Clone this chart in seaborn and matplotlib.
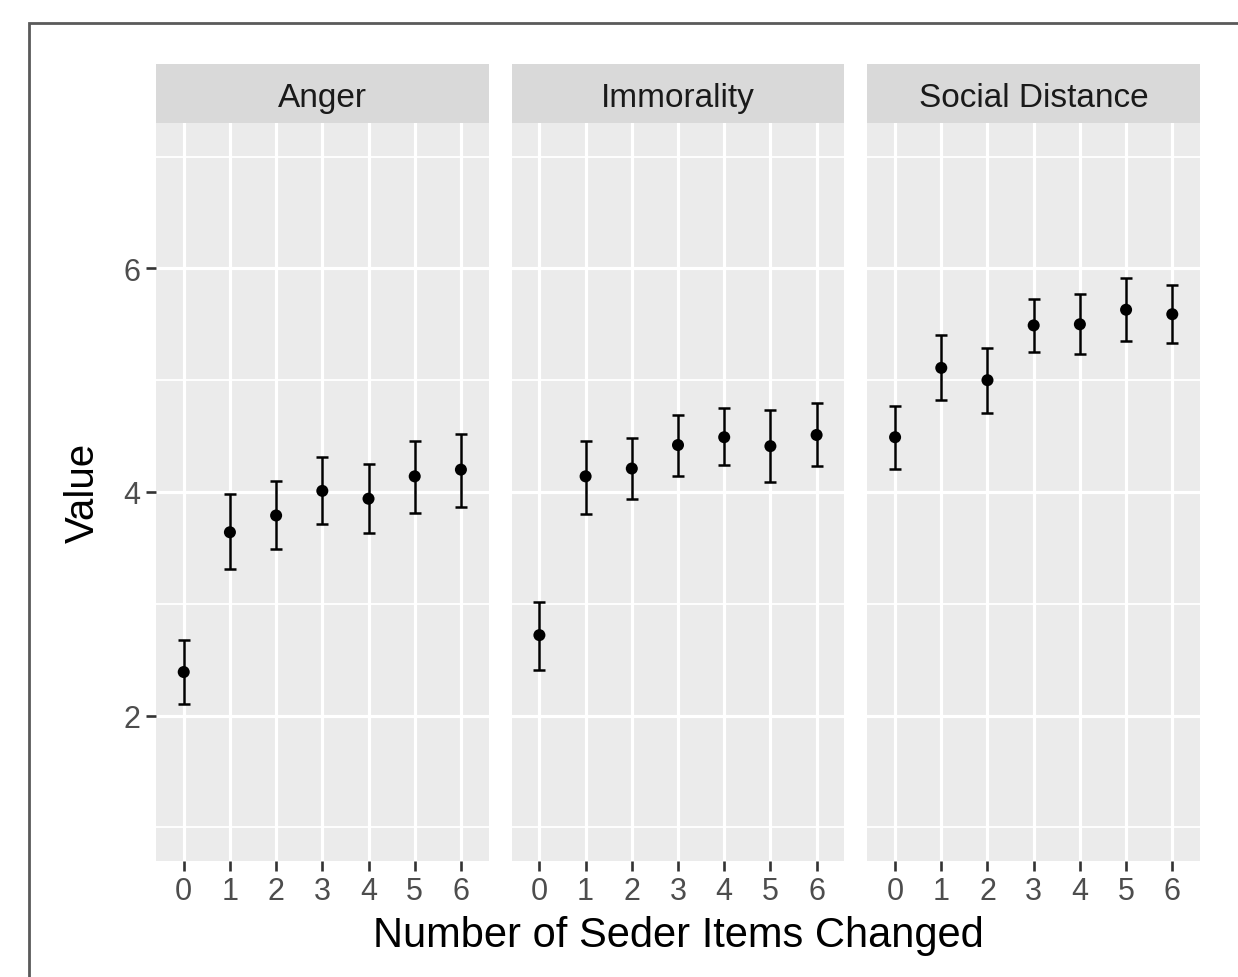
import matplotlib.pyplot as plt
import matplotlib.patches as mpatches
from matplotlib.ticker import FixedLocator
import pandas as pd
import seaborn as sns

sns.set_theme(style="white")
plt.rcParams['font.family'] = ['Liberation Sans', 'DejaVu Sans']

measures = ['Anger', 'Immorality', 'Social Distance']
items_changed = [0, 1, 2, 3, 4, 5, 6]

anger_mean = [2.39, 3.64, 3.79, 4.01, 3.94, 4.14, 4.20]
anger_low = [2.10, 3.31, 3.49, 3.71, 3.63, 3.81, 3.87]
anger_high = [2.68, 3.98, 4.10, 4.31, 4.25, 4.46, 4.52]

immorality_mean = [2.72, 4.14, 4.21, 4.42, 4.49, 4.41, 4.51]
immorality_low = [2.41, 3.80, 3.94, 4.14, 4.24, 4.09, 4.23]
immorality_high = [3.02, 4.46, 4.48, 4.69, 4.75, 4.73, 4.80]

social_mean = [4.49, 5.11, 5.00, 5.49, 5.50, 5.63, 5.59]
social_low = [4.21, 4.82, 4.71, 5.25, 5.23, 5.35, 5.33]
social_high = [4.77, 5.40, 5.29, 5.73, 5.77, 5.91, 5.85]

PANEL_BG = '#EBEBEB'
STRIP_BG = '#D9D9D9'
W, H = 1238, 978


def build_df():
    frames = []
    for name, m, lo, hi in [('Anger', anger_mean, anger_low, anger_high),
                            ('Immorality', immorality_mean, immorality_low, immorality_high),
                            ('Social Distance', social_mean, social_low, social_high)]:
        frames.append(pd.DataFrame({'Measure': name, 'Items': items_changed,
                                    'Value': m, 'Low': lo, 'High': hi}))
    return pd.concat(frames, ignore_index=True)


def draw_errorbars(data, **kwargs):
    ax = plt.gca()
    yerr = [data['Value'] - data['Low'], data['High'] - data['Value']]
    ax.errorbar(data['Items'], data['Value'], yerr=yerr, fmt='none', ecolor='black',
                elinewidth=1.8, capsize=4.6, capthick=1.8, zorder=3)
    sns.scatterplot(data=data, x='Items', y='Value', color='black', s=75,
                    edgecolor='none', ax=ax, zorder=4)


df = build_df()

g = sns.FacetGrid(df, col='Measure', col_order=measures, sharey=True, height=6, aspect=0.5)
g.map_dataframe(draw_errorbars)

fig = g.figure
fig.set_size_inches(W / 100, H / 100)
fig.subplots_adjust(left=156 / W, right=1200 / W, top=1 - 124 / H, bottom=1 - 862 / H,
                    wspace=23 / 332)

axes_h = 862 - 124
strip_h = 59 / axes_h
for i, (ax, title) in enumerate(zip(g.axes.flat, measures)):
    ax.set_facecolor(PANEL_BG)
    ax.set_xlim(-0.6, 6.6)
    ax.set_ylim(0.7, 7.3)
    ax.set_xticks(items_changed)
    ax.set_xticklabels([str(v) for v in items_changed])
    ax.set_yticks([2, 4, 6])
    ax.yaxis.set_minor_locator(FixedLocator([1, 3, 5, 7]))
    ax.grid(which='major', color='white', linewidth=2.3)
    ax.grid(which='minor', axis='y', color='white', linewidth=1.3)
    ax.set_axisbelow(True)
    for s in ax.spines.values():
        s.set_visible(False)
    ax.tick_params(axis='x', which='major', length=7, width=1.9, color='#333333',
                   labelsize=22, labelcolor='#4D4D4D', pad=4, bottom=True)
    if i == 0:
        ax.tick_params(axis='y', which='major', length=7, width=1.9, color='#333333',
                       labelsize=22, labelcolor='#4D4D4D', pad=4, left=True)
    else:
        ax.tick_params(axis='y', which='major', length=0)
    ax.tick_params(which='minor', length=0)
    ax.set_title('')
    ax.set_xlabel('')
    ax.set_ylabel('')
    ax.add_patch(mpatches.Rectangle((0, 1), 1, strip_h, transform=ax.transAxes,
                                    facecolor=STRIP_BG, edgecolor='none', clip_on=False))
    ax.text(0.5, 1 + (124 - 107) / axes_h, title, transform=ax.transAxes, ha='center',
            va='baseline', fontsize=24, color='#1A1A1A')

fig.text(678 / W, 1 - 947 / H, 'Number of Seder Items Changed', ha='center', va='baseline',
         fontsize=30, color='black')
fig.text(83 / W, 1 - 493 / H, 'Value', ha='center', va='center', rotation=90,
         fontsize=29, color='black')

# outer frame, cut off at the right and bottom like the source image
fig.patches.append(mpatches.Rectangle((29 / W, -0.1), 1.2, 1 - 24 / H + 0.1,
                                      transform=fig.transFigure, fill=False,
                                      edgecolor='#5A5A5A', linewidth=2))

fig.savefig('out.png', dpi=100)
